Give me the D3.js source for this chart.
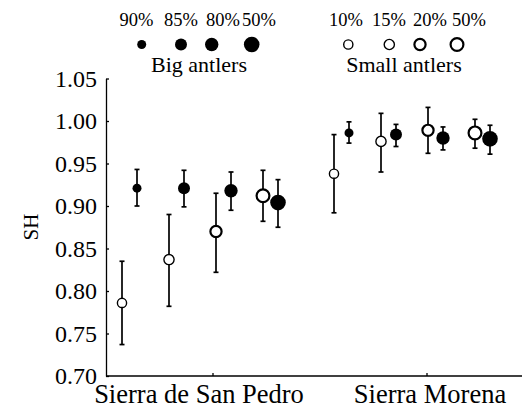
<!DOCTYPE html>
<html>
<head>
<meta charset="utf-8">
<script src="https://cdn.jsdelivr.net/npm/d3@7"></script>
<style>
  body { margin: 0; background: #fff; }
  svg text { font-family: "Liberation Serif", "Times New Roman", serif; fill: #000; }
</style>
</head>
<body>
<svg id="svg1" width="522" height="419"></svg>
<script>
// data
var sites = ["Sierra de San Pedro", "Sierra Morena"];
var bigLevels = ["90%", "85%", "80%", "50%"];
var smallLevels = ["10%", "15%", "20%", "50%"];
var yTicks = [0.70, 0.75, 0.80, 0.85, 0.90, 0.95, 1.00, 1.05];

// big antlers (filled) per site
var bigMean = [[0.921, 0.921, 0.918, 0.904], [0.986, 0.984, 0.980, 0.979]];
var bigHigh = [[0.943, 0.942, 0.940, 0.931], [0.999, 0.996, 0.993, 0.995]];
var bigLow  = [[0.900, 0.899, 0.895, 0.875], [0.974, 0.970, 0.966, 0.961]];

// small antlers (open) per site
var smallMean = [[0.786, 0.837, 0.870, 0.912], [0.938, 0.976, 0.989, 0.986]];
var smallHigh = [[0.835, 0.890, 0.915, 0.942], [0.984, 1.009, 1.016, 1.002]];
var smallLow  = [[0.737, 0.782, 0.822, 0.882], [0.892, 0.940, 0.962, 0.968]];

var width = 522, height = 419;
var serif = '"Liberation Serif", "Times New Roman", serif';
var svg = d3.select('#svg1');

// marker styles by level
var filledR = [4.5, 6, 6.7, 7.8];
var openR = [4.6, 5.1, 5.6, 6.4];
var openW = [1.4, 1.4, 2.2, 2.2];

var y = d3.scaleLinear().domain([0.70, 1.05]).range([376, 78.5]);
var xSite = d3.scaleBand().domain(sites).range([106, 534]);
var xLevel = d3.scaleBand().domain([0, 1, 2, 3]).range([0, 188]);
var pairOff = 7.5;

// axes
var yAxis = d3.axisLeft(y).tickValues(yTicks).tickFormat(d3.format('.2f'))
    .tickSizeInner(-3).tickSizeOuter(0).tickPadding(9);
var gy = svg.append('g').attr('transform', 'translate(106,0)').call(yAxis);
gy.attr('font-family', serif);
gy.selectAll('text').style('font-family', serif).style('font-size', '24px');
gy.selectAll('line, path').attr('stroke', '#000').attr('stroke-width', 1.3);

var xAxis = d3.axisBottom(xSite).tickSizeInner(-3).tickSizeOuter(0).tickPadding(8);
var gx = svg.append('g').attr('transform', 'translate(0,376)').call(xAxis);
gx.attr('font-family', serif);
gx.select('.domain').remove();
gx.append('line').attr('x1', 106).attr('x2', width).attr('y1', 0).attr('y2', 0)
    .attr('stroke', '#000').attr('stroke-width', 1.3);
gx.selectAll('.tick line').attr('stroke', '#000').attr('stroke-width', 1.3);
gx.selectAll('text').style('font-family', serif).style('font-size', '26.5px')
    .attr('dx', function(d, i) { return i == 0 ? -14 : 3; });

svg.append('text')
    .attr('transform', 'translate(38,227) rotate(-90)')
    .attr('text-anchor', 'middle')
    .style('font-family', serif)
    .style('font-size', '21px')
    .text('SH');

// points
var plot = svg.append('g');
sites.forEach(function(site, s) {
    [0, 1, 2, 3].forEach(function(i) {
        var base = xSite(site) + xLevel(i) + xLevel.bandwidth() / 2 - (s ? 2 : 0);
        var pts = [
            { x: base - pairOff, m: smallMean[s][i], lo: smallLow[s][i], hi: smallHigh[s][i], open: true },
            { x: base + pairOff, m: bigMean[s][i], lo: bigLow[s][i], hi: bigHigh[s][i], open: false }
        ];
        pts.forEach(function(p) {
            var g = plot.append('g');
            g.append('line').attr('x1', p.x).attr('x2', p.x)
                .attr('y1', y(p.lo)).attr('y2', y(p.hi))
                .attr('stroke', '#000').attr('stroke-width', 1.7);
            [p.lo, p.hi].forEach(function(v) {
                g.append('line').attr('x1', p.x - 2.5).attr('x2', p.x + 2.5)
                    .attr('y1', y(v)).attr('y2', y(v))
                    .attr('stroke', '#000').attr('stroke-width', 1.7);
            });
            if (p.open) {
                g.append('circle').attr('cx', p.x).attr('cy', y(p.m)).attr('r', openR[i])
                    .attr('fill', '#fff').attr('stroke', '#000').attr('stroke-width', openW[i]);
            } else {
                g.append('circle').attr('cx', p.x).attr('cy', y(p.m)).attr('r', filledR[i])
                    .attr('fill', '#000');
            }
        });
    });
});

// legend
var bigLabelX = [136.5, 181, 223, 259], bigDotX = [141.7, 181, 211.7, 251.7];
var smallLabelX = [346, 389, 430, 469], smallDotX = [348.3, 389.3, 420, 457];
var leg = svg.append('g').attr('font-family', serif);
bigLevels.forEach(function(l, i) {
    leg.append('text').attr('x', bigLabelX[i]).attr('y', 25.7).attr('text-anchor', 'middle')
        .style('font-family', serif).style('font-size', '18.5px').text(l);
    leg.append('circle').attr('cx', bigDotX[i]).attr('cy', 44.5).attr('r', filledR[i]).attr('fill', '#000');
});
smallLevels.forEach(function(l, i) {
    leg.append('text').attr('x', smallLabelX[i]).attr('y', 25.7).attr('text-anchor', 'middle')
        .style('font-family', serif).style('font-size', '18.5px').text(l);
    leg.append('circle').attr('cx', smallDotX[i]).attr('cy', 44.5).attr('r', openR[i])
        .attr('fill', '#fff').attr('stroke', '#000').attr('stroke-width', openW[i]);
});
leg.append('text').attr('x', 199).attr('y', 71.7).attr('text-anchor', 'middle')
    .style('font-family', serif).style('font-size', '22px').text('Big antlers');
leg.append('text').attr('x', 404).attr('y', 71.7).attr('text-anchor', 'middle')
    .style('font-family', serif).style('font-size', '22px').text('Small antlers');
</script>
</body>
</html>
